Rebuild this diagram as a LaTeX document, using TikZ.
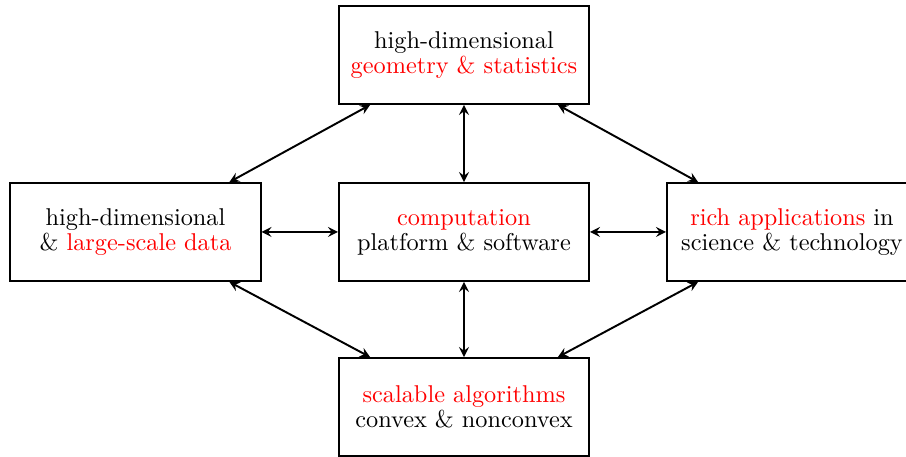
\documentclass[tikz,border=0pt]{standalone}
\usetikzlibrary{arrows.meta}
\begin{document}
\begin{tikzpicture}[x=0.4115pt,y=-0.4115pt,
  box/.style={draw,thick,minimum width=102.9pt,minimum height=40.3pt,align=center,inner sep=0pt,font=\fontsize{10}{10.3}\selectfont},
  link/.style={thick,<->,>=stealth}]
\useasboundingbox (0,0) rectangle (906,457);
\clip (0,0) rectangle (906,457);
\node[box] (top) at (464,55) {high-dimensional\\\textcolor{red}{geometry \& statistics}};
\node[box] (left) at (135.5,232) {high-dimensional\\\& \textcolor{red}{large-scale data}};
\node[box] (mid) at (464,232) {\textcolor{red}{computation}\\platform \& software};
\node[box] (right) at (792,232) {\textcolor{red}{rich applications} in\\science \& technology};
\node[box] (bot) at (464,407) {\textcolor{red}{scalable algorithms}\\convex \& nonconvex};
\draw[link] ([xshift=13.2pt]top.south west) -- ([xshift=-13.2pt]left.north east);
\draw[link] ([xshift=-13.2pt]top.south east) -- ([xshift=13.2pt]right.north west);
\draw[link] ([xshift=-13.2pt]left.south east) -- ([xshift=13.2pt]bot.north west);
\draw[link] ([xshift=13.2pt]right.south west) -- ([xshift=-13.2pt]bot.north east);
\draw[link] (top) -- (mid);
\draw[link] (mid) -- (bot);
\draw[link] (left) -- (mid);
\draw[link] (mid) -- (right);
\end{tikzpicture}
\end{document}
